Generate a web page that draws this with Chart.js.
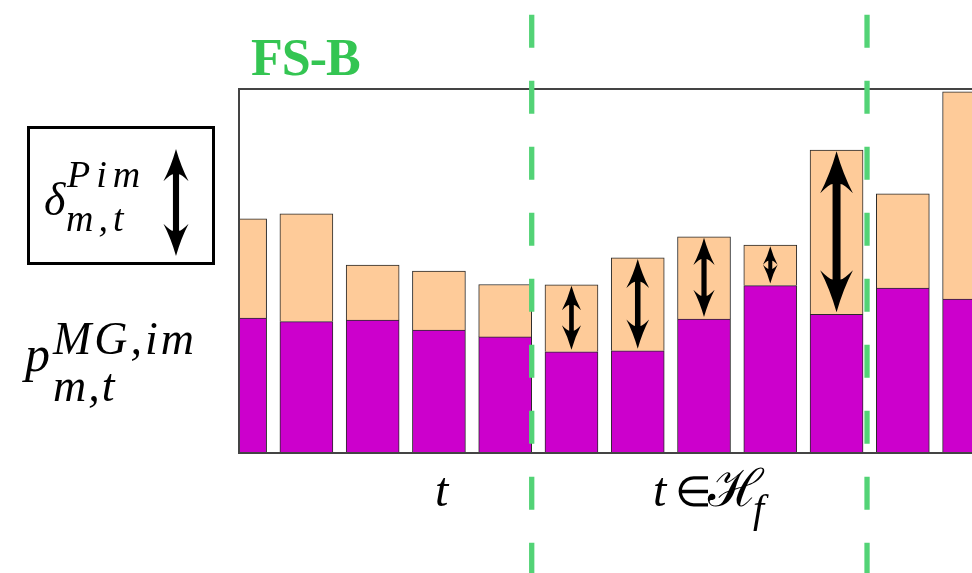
<!DOCTYPE html>
<html>
<head>
<meta charset="utf-8">
<script src="https://cdn.jsdelivr.net/npm/chart.js@4.4.1/dist/chart.umd.min.js"></script>
<style>
  html, body { margin: 0; padding: 0; background: #fff; overflow: hidden; }
  #wrap { position: relative; width: 972px; height: 573px; overflow: hidden; }
  #wrap canvas { position: absolute; left: 0; top: 0; }
</style>
</head>
<body>
<div id="wrap">
  <canvas id="chart" width="1050" height="573"></canvas>
</div>
<script>
// Time slots shown on the axis (partial slots at both ends are clipped by the frame)
const slots = [0, 1, 2, 3, 4, 5, 6, 7, 8, 9, 10, 11];
// Main-grid import price p^{MG,im}_{m,t} per slot
const importPrice = [37.1, 36.1, 36.5, 33.8, 31.9, 27.8, 28.1, 36.8, 46.0, 38.1, 45.3, 42.3];
// Price deviation delta^{Pim}_{m,t} stacked on top of the import price
const priceDelta = [27.2, 29.6, 15.1, 16.2, 14.4, 18.4, 25.5, 22.6, 11.1, 45.1, 25.9, 56.9];
// Slots inside the forecast horizon H_f that carry a deviation arrow
const deviationSlots = [5, 6, 7, 8, 9];
// Horizon boundaries (in slot units) marked with dashed lines
const horizonBounds = [4.40, 9.46];

const MAGENTA = '#cc00cc';
const PEACH = '#fecb99';
const EDGE = '#2a2a2a';
const SERIF = '"Liberation Serif", serif';

// Text pieces: [string, x, baseline, font, letter spacing, colour]
const labels = [
  ['FS-B', 251, 75, 'bold 52px ' + SERIF, -1, '#34c552'],
  // key box symbol: delta^{Pim}_{m,t}
  ['δ', 44, 215, 'italic 46px ' + SERIF, 0, '#000'],
  ['Pim', 67, 187, 'italic 38px ' + SERIF, 6, '#000'],
  ['m,t', 66, 231, 'italic 38px ' + SERIF, 5, '#000'],
  // import price symbol: p^{MG,im}_{m,t}
  ['p', 25, 371, 'italic 50px ' + SERIF, 0, '#000'],
  ['MG,im', 53, 354, 'italic 46px ' + SERIF, 3, '#000'],
  ['m,t', 53, 401, 'italic 46px ' + SERIF, 2, '#000'],
  // horizon labels under the axis
  ['t', 435, 506, 'italic 48px ' + SERIF, 0, '#000'],
  ['t', 653, 506, 'italic 48px ' + SERIF, 0, '#000'],
  ['∈', 675, 506, '42px ' + SERIF, 0, '#000'],
  ['ℋ', 708, 506, '52px ' + SERIF, 0, '#000'],
  ['f', 753, 522, 'italic 40px ' + SERIF, 0, '#000']
];

function doubleArrow(ctx, x, y1, y2) {
  const span = y2 - y1;
  const hl = Math.min(13 + 0.18 * span, span / 2);
  const hw = hl * 0.78;
  const sw = Math.max(4, hl * 0.19);
  const notch = hl * 0.22;
  const a = sw / 2, b = hw / 2;
  ctx.beginPath();
  ctx.moveTo(x, y1);
  ctx.quadraticCurveTo(x + b * 0.4, y1 + hl * 0.55, x + b, y1 + hl);
  ctx.quadraticCurveTo(x + a + (b - a) * 0.25, y1 + hl - notch, x + a, y1 + hl - notch);
  ctx.lineTo(x + a, y2 - hl + notch);
  ctx.quadraticCurveTo(x + a + (b - a) * 0.25, y2 - hl + notch, x + b, y2 - hl);
  ctx.quadraticCurveTo(x + b * 0.4, y2 - hl * 0.55, x, y2);
  ctx.quadraticCurveTo(x - b * 0.4, y2 - hl * 0.55, x - b, y2 - hl);
  ctx.quadraticCurveTo(x - a - (b - a) * 0.25, y2 - hl + notch, x - a, y2 - hl + notch);
  ctx.lineTo(x - a, y1 + hl - notch);
  ctx.quadraticCurveTo(x - a - (b - a) * 0.25, y1 + hl - notch, x - b, y1 + hl);
  ctx.quadraticCurveTo(x - b * 0.4, y1 + hl * 0.55, x, y1);
  ctx.closePath();
  ctx.fillStyle = '#000';
  ctx.fill();
}

const overlay = {
  id: 'overlay',
  afterDatasetsDraw(chart) {
    const { ctx, chartArea: ca, scales: { x, y } } = chart;
    ctx.save();
    // deviation arrows spanning the peach segment of each horizon slot
    deviationSlots.forEach(i => {
      const px = x.getPixelForValue(slots[i]);
      const top = y.getPixelForValue(importPrice[i] + priceDelta[i]);
      const bot = y.getPixelForValue(importPrice[i]);
      doubleArrow(ctx, px, top + 1, bot - 2);
    });
    // plot frame (right side runs off the page)
    ctx.strokeStyle = '#444';
    ctx.lineWidth = 2;
    ctx.beginPath();
    ctx.moveTo(ca.right, ca.top);
    ctx.lineTo(ca.left + 1, ca.top);
    ctx.lineTo(ca.left + 1, ca.bottom);
    ctx.lineTo(ca.right, ca.bottom);
    ctx.stroke();
    // key box with its arrow
    ctx.strokeStyle = '#000';
    ctx.lineWidth = 3;
    ctx.strokeRect(28.5, 127.5, 185, 136);
    doubleArrow(ctx, 176, 149, 256);
    ctx.restore();
  },
  afterDraw(chart) {
    const { ctx, scales: { x } } = chart;
    ctx.save();
    // horizon boundaries
    ctx.strokeStyle = '#53d376';
    ctx.lineWidth = 5.3;
    ctx.setLineDash([33, 33]);
    horizonBounds.forEach(v => {
      const px = x.getPixelForValue(v);
      ctx.beginPath();
      ctx.moveTo(px, 14.7);
      ctx.lineTo(px, chart.height);
      ctx.stroke();
    });
    ctx.setLineDash([]);
    // symbols and titles
    ctx.textBaseline = 'alphabetic';
    ctx.textAlign = 'left';
    labels.forEach(([str, lx, ly, font, spacing, color]) => {
      ctx.font = font;
      ctx.fillStyle = color;
      if ('letterSpacing' in ctx) ctx.letterSpacing = spacing + 'px';
      ctx.fillText(str, lx, ly);
    });
    ctx.restore();
  }
};

new Chart(document.getElementById('chart'), {
  type: 'bar',
  data: {
    datasets: [
      {
        label: 'p^{MG,im}_{m,t}',
        data: slots.map((s, i) => ({ x: s, y: importPrice[i] })),
        backgroundColor: MAGENTA,
        borderColor: EDGE,
        borderWidth: 1,
        barThickness: 53,
        clip: 0
      },
      {
        label: 'δ^{Pim}_{m,t}',
        data: slots.map((s, i) => ({ x: s, y: priceDelta[i] })),
        backgroundColor: PEACH,
        borderColor: EDGE,
        borderWidth: 1,
        barThickness: 53,
        clip: 0
      }
    ]
  },
  options: {
    responsive: false,
    animation: false,
    devicePixelRatio: 1,
    layout: { padding: { left: 238, top: 89, right: 10, bottom: 120 } },
    plugins: { legend: { display: false }, tooltip: { enabled: false } },
    scales: {
      x: {
        type: 'linear', stacked: true, display: false, offset: false,
        min: -0.032, max: 12.07,
        ticks: { stepSize: 1, includeBounds: false },
        grid: { display: false, offset: false }
      },
      y: {
        stacked: true, display: false, min: 0, max: 100,
        grid: { display: false }
      }
    }
  },
  plugins: [overlay]
});
</script>
</body>
</html>
